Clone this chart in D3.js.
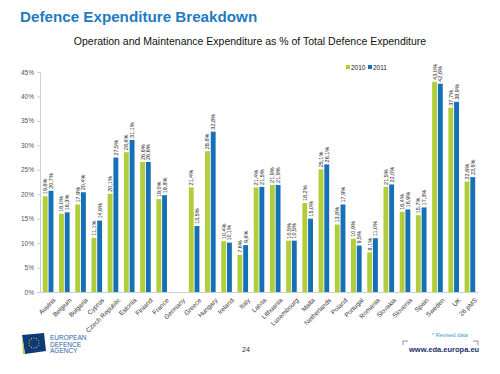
<!DOCTYPE html>
<html>
<head>
<meta charset="utf-8">
<script src="https://cdn.jsdelivr.net/npm/d3@7"></script>
<style>
  body { margin: 0; background: #fff; }
  svg { display: block; font-family: "Liberation Sans", Arial, sans-serif; }
</style>
</head>
<body>
<div id="chart"></div>
<script>
// data
var countries = ["Austria","Belgium","Bulgaria","Cyprus","Czech Republic","Estonia","Finland","France","Germany","Greece","Hungary","Ireland","Italy","Latvia","Lithuania","Luxembourg","Malta","Netherlands","Poland","Portugal","Romania","Slovakia","Slovenia","Spain","Sweden","UK","26 pMS"];
var y2010 = [19.6,16.0,17.9,11.1,20.1,28.6,26.6,19.0,null,21.4,28.8,10.4,7.6,21.4,21.9,10.5,18.2,25.1,13.8,10.9,8.1,21.5,16.4,15.7,43.0,37.7,22.6];
var y2011 = [20.7,16.3,20.4,14.6,27.5,31.1,26.6,19.8,null,13.5,32.8,10.1,9.6,21.5,21.9,10.5,15.0,26.1,17.9,9.5,11.0,22.0,16.9,17.3,42.6,38.9,23.5];
var years = ["2010","2011"];
var yTicks = [0,5,10,15,20,25,30,35,40,45];

var colors = {"2010": "#b2cd3a", "2011": "#1570b8"};

var W = 500, H = 374;
var margin = {top: 72, right: 22, bottom: 82, left: 40},
    width = W - margin.left - margin.right,
    height = H - margin.top - margin.bottom;

var svg = d3.select("#chart").append("svg")
    .attr("width", W)
    .attr("height", H);

// slide title + chart title
svg.append("text")
  .attr("x", 20).attr("y", 22)
  .attr("font-size", 15.2).attr("font-weight", "bold")
  .attr("fill", "#1f7bc1")
  .text("Defence Expenditure Breakdown");

svg.append("text")
  .attr("x", 250).attr("y", 45)
  .attr("text-anchor", "middle")
  .attr("font-size", 10.5).attr("fill", "#111")
  .text("Operation and Maintenance Expenditure as % of Total Defence Expenditure");

var g = svg.append("g")
  .attr("transform", "translate(" + margin.left + "," + margin.top + ")");

var x0 = d3.scaleBand()
  .domain(countries)
  .range([0, width])
  .paddingInner(0.24)
  .paddingOuter(0.12);

var x1 = d3.scaleBand()
  .domain(years)
  .range([0, x0.bandwidth()])
  .padding(0.15);

var y = d3.scaleLinear()
  .domain([0, 45])
  .range([height, 0]);

// y axis
var axisY = g.append("g")
  .call(d3.axisLeft(y).tickValues(yTicks).tickFormat(function(d){ return d + "%"; }).tickSize(3));
axisY.select(".domain").attr("stroke", "#c8d0dc");
axisY.selectAll(".tick line").attr("stroke", "#c8d0dc");
axisY.selectAll(".tick text").attr("font-size", 6.5).attr("fill", "#555");

// x axis
var axisX = g.append("g")
  .attr("transform", "translate(0," + height + ")")
  .call(d3.axisBottom(x0).tickSize(0));
axisX.select(".domain").attr("stroke", "#c8d0dc");
axisX.selectAll(".tick text")
  .attr("font-size", 6.5).attr("fill", "#333")
  .attr("text-anchor", "end")
  .attr("transform", "translate(4,5) rotate(-45)")
  .attr("dy", "0.35em");

// bars
var rows = countries.map(function(c, i) {
  return {country: c, vals: [{year: "2010", v: y2010[i]}, {year: "2011", v: y2011[i]}]};
});

var groups = g.selectAll(".grp")
  .data(rows)
  .enter().append("g")
  .attr("transform", function(d){ return "translate(" + x0(d.country) + ",0)"; });

groups.selectAll("rect")
  .data(function(d){ return d.vals.filter(function(e){ return e.v != null; }); })
  .enter().append("rect")
  .attr("x", function(d){ return x1(d.year); })
  .attr("y", function(d){ return y(d.v); })
  .attr("width", x1.bandwidth())
  .attr("height", function(d){ return height - y(d.v); })
  .attr("fill", function(d){ return colors[d.year]; });

groups.selectAll("text.lbl")
  .data(function(d){ return d.vals.filter(function(e){ return e.v != null; }); })
  .enter().append("text")
  .attr("class", "lbl")
  .attr("transform", function(d){
    return "translate(" + (x1(d.year) + x1.bandwidth() / 2 + 2) + "," + (y(d.v) - 2) + ") rotate(-90)";
  })
  .attr("font-size", 5.5).attr("fill", "#222")
  .text(function(d){ return d.v.toFixed(1).replace(".", ",") + "%"; });

// legend
var leg = svg.append("g").attr("transform", "translate(346,65)");
years.forEach(function(yr, i) {
  var lx = i * 22;
  leg.append("rect").attr("x", lx).attr("y", 0).attr("width", 4).attr("height", 4).attr("fill", colors[yr]);
  leg.append("text").attr("x", lx + 5).attr("y", 4.5).attr("font-size", 6.5).attr("fill", "#222").text(yr);
});

// footer
var logo = svg.append("g").attr("transform", "translate(22,333)");
logo.append("path").attr("d", "M0,2 L22,0 L24,18 L3,21 Z").attr("fill", "#0f3a78");
logo.append("path").attr("d", "M0,2 L3,21 L1,21 Z").attr("fill", "#b2cd3a");
var stars = d3.range(12).map(function(k){ return k * Math.PI / 6; });
logo.selectAll("circle").data(stars).enter().append("circle")
  .attr("cx", function(a){ return 12 + 5 * Math.cos(a); })
  .attr("cy", function(a){ return 10 + 5 * Math.sin(a); })
  .attr("r", 0.6).attr("fill", "#f3d21b");
["EUROPEAN","DEFENCE","AGENCY"].forEach(function(t, i) {
  svg.append("text").attr("x", 50).attr("y", 340 + i * 6.5)
    .attr("font-size", 6.5).attr("fill", "#2a64a8").text(t);
});

svg.append("text").attr("x", 242).attr("y", 352).attr("font-size", 7).attr("fill", "#333").text("24");

svg.append("text").attr("x", 432).attr("y", 337).attr("font-size", 5.5).attr("fill", "#3b9ad0").text("* Revised data");

svg.append("path").attr("d", "M403,345 L403,341 L408,341").attr("fill", "none").attr("stroke", "#777").attr("stroke-width", 0.8);
svg.append("path").attr("d", "M473,341 L478,341 L478,345").attr("fill", "none").attr("stroke", "#777").attr("stroke-width", 0.8);
svg.append("text").attr("x", 409).attr("y", 352).attr("font-size", 7.5).attr("font-weight", "bold").attr("fill", "#1c2f6a").text("www.eda.europa.eu");
</script>
</body>
</html>
